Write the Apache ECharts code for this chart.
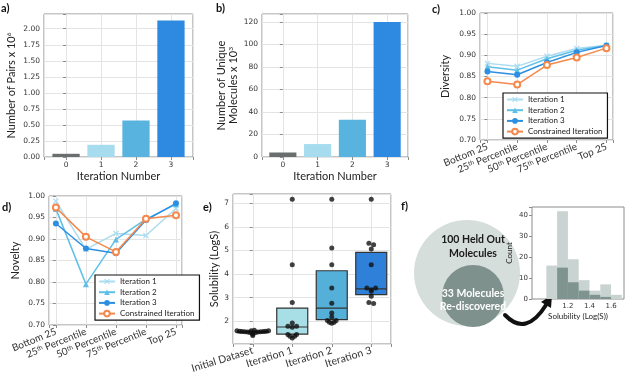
<!DOCTYPE html>
<html>
<head>
<meta charset="utf-8">
<script src="https://cdn.jsdelivr.net/npm/echarts@6/dist/echarts.min.js"></script>
<style>
html,body{margin:0;padding:0;background:#fff}
#main{width:628px;height:386px}
</style>
</head>
<body>
<div id="main"></div>
<script>
// a) b) number of pairs / unique molecules per iteration
var iterNums = ['0', '1', '2', '3'];
var pairs = [0.05, 0.19, 0.57, 2.13];          // x 10^6
var uniqueMols = [4, 11.5, 33, 120];           // x 10^3

// c) d) diversity and novelty per percentile
var pctLabels = ['Bottom 25', '25th Percentile', '50th Percentile', '75th Percentile', 'Top 25'];
var seriesNames = ['Iteration 1', 'Iteration 2', 'Iteration 3', 'Constrained Iteration'];
var diversityIt1 = [0.881, 0.874, 0.898, 0.916, 0.924];
var diversityIt2 = [0.873, 0.865, 0.892, 0.912, 0.923];
var diversityIt3 = [0.862, 0.854, 0.883, 0.907, 0.923];
var diversityCon = [0.839, 0.831, 0.877, 0.895, 0.917];
var noveltyIt1 = [0.988, 0.876, 0.913, 0.908, 0.971];
var noveltyIt2 = [0.970, 0.795, 0.899, 0.946, 0.981];
var noveltyIt3 = [0.936, 0.878, 0.867, 0.944, 0.983];
var noveltyCon = [0.973, 0.905, 0.870, 0.947, 0.955];

// e) solubility boxes + swarm points
var boxCats = ['Initial Dataset', 'Iteration 1', 'Iteration 2', 'Iteration 3'];
var boxQ1 = [1.52, 1.46, 2.07, 3.13];
var boxMedian = [1.55, 1.76, 2.56, 3.37];
var boxQ3 = [1.58, 2.56, 4.14, 4.92];
var swarmInitial = [[-0.40, 1.60], [-0.33, 1.58], [-0.27, 1.57], [-0.20, 1.56], [-0.13, 1.55], [-0.07, 1.53],
    [-0.04, 1.60], [0.04, 1.62], [0, 1.50], [0, 1.45], [0, 1.40], [0.07, 1.53], [0.13, 1.55], [0.20, 1.56],
    [0.27, 1.57], [0.33, 1.58], [0.40, 1.60]];
var swarmIt1 = [[1, 7.17], [1, 4.39], [1, 2.80], [1, 1.93], [0.89, 1.79], [1.11, 1.79], [1, 1.75],
    [0.89, 1.44], [1.11, 1.44], [0.94, 1.37], [1.06, 1.37], [1, 1.29]];
var swarmIt2 = [[2, 7.17], [2, 5.10], [2, 4.39], [2, 3.41], [2, 2.77], [2, 2.35], [2, 2.18],
    [1.89, 2.03], [2.11, 2.03], [1.94, 1.96], [2.06, 1.96], [2, 1.92]];
var swarmIt3 = [[3, 7.17], [2.94, 5.31], [3.06, 5.24], [3, 5.06], [3, 4.39], [2.89, 3.41], [3.11, 3.41],
    [3, 3.34], [3, 3.27], [3, 3.06], [2.94, 2.80], [3.06, 2.75]];

// f) histogram of held out molecules (bins of 0.1)
var histBins = [1.05, 1.15, 1.25, 1.35, 1.45, 1.55, 1.65];
var histAll = [16, 42, 19, 9, 4, 7, 2];
var histFound = [0, 15, 8, 4, 2, 1, 0];

var TICK_FONT = 'DejaVu Sans';
var TEXT_FONT = 'Lato';
var FRAME = '#8c8c8c';
var GRIDLINE = '#e4e4e4';

var barColors = ['#6b6e6e', '#a7dbee', '#58b4df', '#2d8ae0'];
var boxColors = ['#9a9a9a', '#a8dfe6', '#55b0d9', '#2f80d9'];
var xMark = 'path://M0,1.5L1.5,0L5,3.5L8.5,0L10,1.5L6.5,5L10,8.5L8.5,10L5,6.5L1.5,10L0,8.5L3.5,5Z';
var lineLook = [
    {color: '#abdcf0', symbol: xMark},
    {color: '#5ec0e8', symbol: 'triangle'},
    {color: '#2d8fe2', symbol: 'circle'},
    {color: '#f5894c', symbol: 'emptyCircle'}
];

function onStep(v, step) {
    var k = v / step;
    return Math.abs(k - Math.round(k)) < 1e-6;
}

function makeGrid(l, t, w, h) {
    return {left: l, top: t, width: w, height: h, show: true, borderColor: FRAME, borderWidth: 1,
        backgroundColor: 'transparent', outerBoundsMode: 'none'};
}

var supStyle = {fontSize: 6.5, verticalAlign: 'top', fontFamily: TEXT_FONT, color: '#222'};

function makeAxis(type, gi, o) {
    return {
        type: 'value', gridIndex: gi, min: o.min, max: o.max, interval: o.interval,
        axisLine: {show: false},
        axisTick: {show: o.ticks !== false, length: 3, lineStyle: {color: FRAME}},
        axisLabel: {
            fontFamily: o.labelFont || TICK_FONT, fontSize: o.labelSize || 7.5, color: '#333',
            margin: o.margin || 4, rotate: o.rotate || 0, formatter: o.fmt,
            rich: {sup: {fontSize: 6.5, verticalAlign: 'top', fontFamily: TEXT_FONT, color: '#333'}}
        },
        splitLine: {show: o.grid !== false, lineStyle: {color: GRIDLINE, width: 1}},
        name: o.name || '', nameLocation: 'middle', nameGap: o.gap || 0, nameRotate: type === 'y' ? 90 : 0,
        nameTextStyle: {fontFamily: TEXT_FONT, fontSize: o.nameSize || 11, color: '#222', lineHeight: 12,
            rich: {sup: supStyle}}
    };
}

function iterFmt(v) {
    return (onStep(v, 1) && v >= 0 && v <= 3) ? iterNums[Math.round(v)] : '';
}
function pctFmt(v) {
    if (!onStep(v, 1) || v < 0 || v > 4) return '';
    return pctLabels[Math.round(v)].replace(/^(\d+)th /, '$1{sup|th} ');
}
function fixed2(v) {
    return onStep(v, 0.05) ? v.toFixed(2) : '';
}

function lineSeries(k, axisIdx, values) {
    var look = lineLook[k];
    return {
        type: 'line', name: seriesNames[k], xAxisIndex: axisIdx, yAxisIndex: axisIdx,
        data: values.map(function (v, i) { return [i, v]; }),
        symbol: look.symbol, symbolSize: 6, showAllSymbol: true,
        lineStyle: {color: look.color, width: 1.5}, itemStyle: {color: look.color},
        z: 3 + k
    };
}

function legendAt(l, t) {
    return {
        left: l, top: t, orient: 'vertical', data: seriesNames, selectedMode: false,
        itemWidth: 16, itemHeight: 7, itemGap: 1.7, padding: [2, 5, 2, 3],
        borderColor: '#111', borderWidth: 1.2, backgroundColor: '#fff',
        textStyle: {fontFamily: TEXT_FONT, fontSize: 8, color: '#222', lineHeight: 9}
    };
}

var chart = echarts.init(document.getElementById('main'));

var option = {
    animation: false,
    backgroundColor: '#fff',
    grid: [
        makeGrid(44, 14, 149, 143),      // a
        makeGrid(262, 14, 146, 143),     // b
        makeGrid(480, 13, 133, 127),     // c
        makeGrid(49, 196, 133, 129),     // d
        makeGrid(233, 194, 158, 150),    // e
        makeGrid(532, 207, 92, 92)       // f
    ],
    xAxis: [
        makeAxis('x', 0, {min: -0.63, max: 3.63, fmt: iterFmt, name: 'Iteration Number', gap: 13}),
        makeAxis('x', 1, {min: -0.6, max: 3.6, fmt: iterFmt, name: 'Iteration Number', gap: 13}),
        makeAxis('x', 2, {min: -0.25, max: 4.22, fmt: pctFmt, rotate: 22, labelFont: TEXT_FONT, labelSize: 10, margin: 6}),
        makeAxis('x', 3, {min: -0.23, max: 4.2, fmt: pctFmt, rotate: 22, labelFont: TEXT_FONT, labelSize: 10, margin: 6}),
        makeAxis('x', 4, {min: -0.5, max: 3.5, rotate: 17, labelFont: TEXT_FONT, labelSize: 10.5, margin: 6,
            fmt: function (v) { return (onStep(v, 1) && v >= 0 && v <= 3) ? boxCats[Math.round(v)] : ''; }}),
        {type: 'category', gridIndex: 4, data: boxCats, position: 'top', show: false},
        makeAxis('x', 5, {min: 0.867, max: 1.72, grid: false, ticks: false, labelSize: 7, margin: 4,
            name: 'Solubility (Log(S))', gap: 11, nameSize: 8,
            fmt: function (v) { return (onStep(v, 0.2) && v > 1.1) ? v.toFixed(1) : ''; }})
    ],
    yAxis: [
        makeAxis('y', 0, {min: 0, max: 2.23, interval: 0.25, name: 'Number of Pairs x 10{sup|6}', gap: 27,
            fmt: function (v) { return onStep(v, 0.25) ? v.toFixed(2) : ''; }}),
        makeAxis('y', 1, {min: 0, max: 127, interval: 20, name: 'Number of Unique\nMolecules x 10{sup|3}', gap: 22,
            fmt: function (v) { return onStep(v, 20) ? String(Math.round(v)) : ''; }}),
        makeAxis('y', 2, {min: 0.7, max: 1.0, interval: 0.05, fmt: fixed2, name: 'Diversity', gap: 29}),
        makeAxis('y', 3, {min: 0.7, max: 1.0, interval: 0.05, fmt: fixed2, name: 'Novelty', gap: 28}),
        makeAxis('y', 4, {min: 1.04, max: 7.39, name: 'Solubility (LogS)', gap: 13,
            fmt: function (v) { return onStep(v, 1) ? String(Math.round(v)) : ''; }}),
        makeAxis('y', 5, {min: 0, max: 44, grid: false, labelSize: 7, name: 'Count', gap: 12, nameSize: 8,
            fmt: function (v) { return onStep(v, 10) ? String(Math.round(v)) : ''; }})
    ],
    legend: [legendAt(503, 93), legendAt(95, 275)],
    series: [
        {
            type: 'bar', xAxisIndex: 0, yAxisIndex: 0, barWidth: '78%',
            data: pairs.map(function (v, i) { return {value: [i, v], itemStyle: {color: barColors[i]}}; })
        },
        {
            type: 'bar', xAxisIndex: 1, yAxisIndex: 1, barWidth: '78%',
            data: uniqueMols.map(function (v, i) { return {value: [i, v], itemStyle: {color: barColors[i]}}; })
        },
        lineSeries(0, 2, diversityIt1),
        lineSeries(1, 2, diversityIt2),
        lineSeries(2, 2, diversityIt3),
        lineSeries(3, 2, diversityCon),
        lineSeries(0, 3, noveltyIt1),
        lineSeries(1, 3, noveltyIt2),
        lineSeries(2, 3, noveltyIt3),
        lineSeries(3, 3, noveltyCon),
        {
            type: 'boxplot', xAxisIndex: 5, yAxisIndex: 4, boxWidth: [31, 31],
            data: boxCats.map(function (c, i) {
                return {
                    value: [boxQ1[i], boxQ1[i], boxMedian[i], boxQ3[i], boxQ3[i]],
                    itemStyle: {color: boxColors[i], borderColor: '#333', borderWidth: 1.2}
                };
            })
        },
        {
            type: 'scatter', xAxisIndex: 4, yAxisIndex: 4, symbolSize: 5, z: 5,
            itemStyle: {color: '#111'},
            data: swarmInitial.concat(swarmIt1, swarmIt2, swarmIt3)
        },
        {
            type: 'bar', xAxisIndex: 6, yAxisIndex: 5, barWidth: '100%', barGap: '-100%',
            itemStyle: {color: '#c9d3d1'},
            data: histBins.map(function (b, i) { return [b, histAll[i]]; })
        },
        {
            type: 'bar', xAxisIndex: 6, yAxisIndex: 5, barWidth: '100%', barGap: '-100%',
            itemStyle: {color: '#7f948f'},
            data: histBins.map(function (b, i) { return [b, histFound[i]]; })
        }
    ],
    graphic: [
        {type: 'text', left: 1, top: 3, style: {text: 'a)', font: 'bold 11px Lato', fill: '#111'}},
        {type: 'text', left: 216, top: 3, style: {text: 'b)', font: 'bold 11px Lato', fill: '#111'}},
        {type: 'text', left: 432, top: 4, style: {text: 'c)', font: 'bold 11px Lato', fill: '#111'}},
        {type: 'text', left: 2, top: 202, style: {text: 'd)', font: 'bold 11px Lato', fill: '#111'}},
        {type: 'text', left: 203, top: 202, style: {text: 'e)', font: 'bold 11px Lato', fill: '#111'}},
        {type: 'text', left: 401, top: 201, style: {text: 'f)', font: 'bold 11px Lato', fill: '#111'}},
        // f) held out / rediscovered circles
        {type: 'circle', shape: {cx: 467, cy: 273, r: 53}, style: {fill: '#d6dedc'}},
        {type: 'circle', shape: {cx: 473, cy: 296, r: 31}, style: {fill: '#7e918c'}},
        {type: 'text', x: 473, y: 247, style: {text: '100 Held Out\nMolecules', font: 'bold 10.5px Lato',
            fill: '#1a1a1a', align: 'center', verticalAlign: 'middle', lineHeight: 14}},
        {type: 'text', x: 473, y: 300, style: {text: '33 Molecules\nRe-discovered', font: 'bold 10.5px Lato',
            fill: '#fff', align: 'center', verticalAlign: 'middle', lineHeight: 13}},
        // curved arrow into the histogram
        {type: 'bezierCurve', shape: {x1: 505, y1: 315, cpx1: 526, cpy1: 337, x2: 546, y2: 305},
            style: {fill: 'none', stroke: '#111', lineWidth: 4, lineCap: 'round'}},
        {type: 'polygon', shape: {points: [[552, 295], [551, 308], [541, 302]]}, style: {fill: '#111'}}
    ]
};

chart.setOption(option);
</script>
</body>
</html>
